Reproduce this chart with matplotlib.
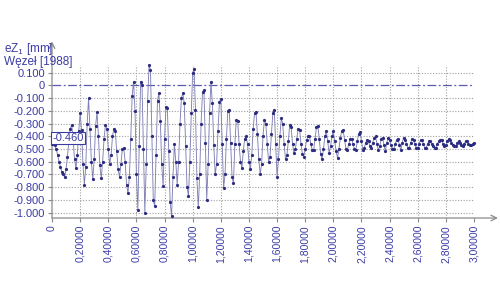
import matplotlib
matplotlib.use('Agg')
import matplotlib.pyplot as plt
import numpy as np

plt.rcParams['font.family'] = ['Liberation Sans', 'DejaVu Sans']
plt.rcParams['mathtext.fontset'] = 'custom'
plt.rcParams['mathtext.rm'] = 'Liberation Sans'
plt.rcParams['mathtext.it'] = 'Liberation Sans'

# displacement eZ1 of node 1988, one sample every 0.01 s
dt = 0.01
ez = [
    -0.46, -0.46, -0.47, -0.50, -0.55, -0.60, -0.64, -0.68, -0.70, -0.72,
    -0.66, -0.56, -0.44, -0.34, -0.31, -0.42, -0.58, -0.65, -0.55, -0.36,
    -0.22, -0.35, -0.62, -0.78, -0.64, -0.30, -0.10, -0.34, -0.60, -0.74,
    -0.58, -0.32, -0.21, -0.40, -0.63, -0.73, -0.60, -0.42, -0.31, -0.34,
    -0.50, -0.62, -0.55, -0.40, -0.34, -0.36, -0.52, -0.66, -0.72, -0.62,
    -0.50, -0.49, -0.60, -0.78, -0.85, -0.72, -0.42, -0.08, 0.03, -0.20,
    -0.70, -0.98, -0.48, 0.03, 0.00, -0.50, -1.00, -0.62, -0.12, 0.16,
    0.12, -0.40, -0.90, -0.95, -0.55, -0.12, -0.06, -0.28, -0.62, -0.79,
    -0.42, -0.17, -0.18, -0.52, -0.92, -1.03, -0.72, -0.46, -0.60, -0.78,
    -0.60, -0.30, -0.10, -0.06, -0.14, -0.48, -0.80, -0.87, -0.60, -0.22,
    0.10, 0.13, -0.19, -0.73, -0.96, -0.70, -0.30, -0.05, -0.04, -0.45,
    -0.90, -0.62, -0.22, 0.03, -0.14, -0.47, -0.70, -0.62, -0.36, -0.13,
    -0.11, -0.46, -0.81, -0.70, -0.42, -0.20, -0.19, -0.45, -0.72, -0.77,
    -0.46, -0.27, -0.28, -0.46, -0.60, -0.65, -0.52, -0.42, -0.40, -0.46,
    -0.60, -0.66, -0.55, -0.34, -0.22, -0.21, -0.38, -0.58, -0.70, -0.62,
    -0.40, -0.27, -0.30, -0.46, -0.60, -0.56, -0.38, -0.22, -0.19, -0.46,
    -0.72, -0.58, -0.40, -0.26, -0.30, -0.46, -0.58, -0.55, -0.44, -0.31,
    -0.33, -0.46, -0.53, -0.50, -0.42, -0.34, -0.35, -0.46, -0.54, -0.56,
    -0.50, -0.43, -0.40, -0.40, -0.46, -0.51, -0.51, -0.42, -0.33, -0.32,
    -0.42, -0.54, -0.58, -0.50, -0.40, -0.36, -0.44, -0.53, -0.48, -0.40,
    -0.36, -0.44, -0.52, -0.57, -0.50, -0.41, -0.36, -0.35, -0.43, -0.50,
    -0.51, -0.46, -0.42, -0.42, -0.46, -0.50, -0.51, -0.44, -0.38, -0.37,
    -0.44, -0.51, -0.49, -0.45, -0.43, -0.44, -0.48, -0.49, -0.45, -0.41,
    -0.40, -0.46, -0.51, -0.48, -0.42, -0.41, -0.47, -0.52, -0.45, -0.41,
    -0.43, -0.47, -0.50, -0.50, -0.46, -0.43, -0.42, -0.47, -0.51, -0.45,
    -0.41, -0.43, -0.46, -0.49, -0.49, -0.45, -0.42, -0.43, -0.46, -0.49,
    -0.49, -0.46, -0.43, -0.43, -0.46, -0.49, -0.49, -0.46, -0.44, -0.44,
    -0.46, -0.48, -0.49, -0.49, -0.46, -0.44, -0.43, -0.43, -0.46, -0.48,
    -0.47, -0.44, -0.42, -0.43, -0.45, -0.47, -0.48, -0.48, -0.45, -0.44,
    -0.45, -0.47, -0.48, -0.46, -0.44, -0.44, -0.46, -0.47, -0.47, -0.46,
    -0.45,
]
t = np.arange(len(ez)) * dt

x_ticks = [0.2 * i for i in range(16)]
y_ticks = [0.1 - 0.1 * i for i in range(12)]
start_label = '-0.460'

blue = '#3b3ba6'
grid_c = '#a0a0a0'
ybot, ytop = -1.043, 0.16

fig = plt.figure(figsize=(5, 3), dpi=100)
ax = fig.add_axes([0.104, 0.2733, 0.844, 0.51])
ax.set_xlim(0, 3.0)
ax.set_ylim(ybot, ytop)
for s in ax.spines.values():
    s.set_visible(False)

# grid
ax.hlines([v for v in y_ticks if abs(v) > 1e-9], 0, 3.0, colors=grid_c,
          linestyles=(0, (1, 1.5)), lw=0.8, zorder=1)
ax.vlines(x_ticks[1:], ybot, ytop, colors=grid_c,
          linestyles=(0, (1, 1.5)), lw=0.8, zorder=1)
ax.axhline(0, 0, 1, color='#5a5ab0', lw=0.9, dashes=(7, 2, 1.5, 2), zorder=2)

# axis lines with arrows
ax.annotate('', xy=(3.17, ybot), xytext=(0, ybot), annotation_clip=False,
            arrowprops=dict(arrowstyle='->', color='#8a8a8a', lw=0.9,
                            shrinkA=0, shrinkB=0))
ax.annotate('', xy=(0, 0.345), xytext=(0, ybot), annotation_clip=False,
            arrowprops=dict(arrowstyle='->', color='#8a8a8a', lw=0.9,
                            shrinkA=0, shrinkB=0))

ax.plot(t, ez, color='#8080b4', lw=0.65, marker='o', ms=1.3,
        mfc='#2c2c80', mec='#2c2c80', zorder=3, clip_on=False)

ax.set_xticks(x_ticks)
ax.set_xticklabels(['0'] + [('%.5f' % v).replace('.', ',') for v in x_ticks[1:]],
                   rotation=90)
ax.set_yticks(y_ticks)
ax.set_yticklabels(['0' if abs(v) < 1e-9 else '%.3f' % v for v in y_ticks])
ax.tick_params(axis='both', colors='#8a8a8a', labelcolor=blue, labelsize=7.5,
               length=3, width=0.8, pad=2)
ax.tick_params(axis='y', labelsize=8)

ax.text(0.004, -0.452, start_label, color=blue, fontsize=8, ha='left',
        va='bottom', zorder=5,
        bbox=dict(boxstyle='square,pad=0.12', fc='white', ec=blue, lw=0.8))

fig.text(0.008, 1 - 52 / 300, 'eZ$_1$ [mm]', color=blue, fontsize=8.5,
         va='baseline')
fig.text(0.008, 1 - 65 / 300, 'Węzeł [1988]', color=blue, fontsize=8.5,
         va='baseline')

fig.savefig('out.png', dpi=100)
